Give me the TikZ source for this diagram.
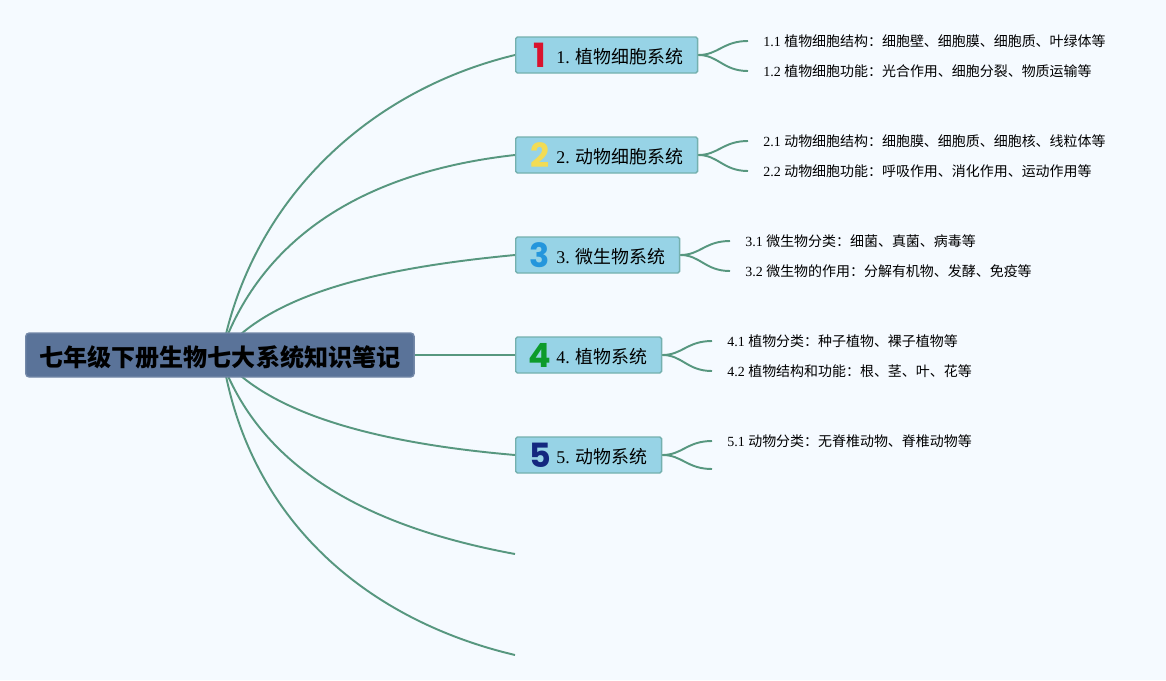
\documentclass[tikz,border=0pt]{standalone}
\usepackage{fontspec}
\usepackage{xcolor}
\usetikzlibrary{positioning}
\setmainfont{Liberation Serif}
\newfontfamily\cjk{Noto Sans CJK SC}
\newfontfamily\numfont{Poppins}
\definecolor{pagebg}{HTML}{F5FAFF}
\definecolor{rootfill}{HTML}{5A7399}
\definecolor{rootedge}{HTML}{7388A8}
\definecolor{branchfill}{HTML}{97D3E6}
\definecolor{branchedge}{HTML}{74B0AE}
\definecolor{linkgreen}{HTML}{57977F}
\definecolor{numred}{HTML}{D9132E}
\definecolor{numyellow}{HTML}{F2DC55}
\definecolor{numblue}{HTML}{2496DC}
\definecolor{numgreen}{HTML}{0D9B2B}
\definecolor{numnavy}{HTML}{14287F}
\newcommand{\numicon}[3]{\makebox[11.4pt]{\raisebox{-3pt}[0pt][0pt]{\fontsize{19}{19}\numfont\bfseries\textcolor{#1}{#2}}}\hspace{3.6pt}\raisebox{-1.1pt}[\height][\depth]{#3}}
\tikzset{
	rootbox/.style={draw=rootedge,fill=rootfill,thick,rounded corners=2pt,anchor=west,minimum width=7.77cm,minimum height=0.88cm,inner sep=0pt,text=black,font=\fontsize{13.7}{16}\selectfont\cjk\bfseries},
	branchbox/.style={draw=branchedge,fill=branchfill,thick,rounded corners=1pt,anchor=west,minimum height=0.72cm,inner sep=0pt,text=black,font=\fontsize{10.2}{12}\selectfont},
	leaftext/.style={anchor=west,inner xsep=0.3cm,inner ysep=2pt,text=black,font=\fontsize{7.95}{10}\selectfont},
	linkline/.style={draw=linkgreen,line width=1.1pt}
}
\begin{document}
\begin{tikzpicture}[x=0.02cm,y=-0.02cm]
	\fill[pagebg] (0,0) rectangle (1166,680);
	\useasboundingbox (0,0) rectangle (1166,680);
	\coordinate (rootone) at (226,334);
	\coordinate (roottwo) at (228,334);
	\coordinate (rootthree) at (241,334);
	\coordinate (rootfive) at (241,376);
	\coordinate (rootsix) at (228,376);
	\coordinate (rootseven) at (226,376);
	\coordinate (branchsix) at (515,554);
	\coordinate (branchseven) at (515,655);
	\coordinate (leaffivetwo) at (712,469);
	\draw[linkline] (rootone) .. controls (260,195) and (370,90) .. (515,55);
	\draw[linkline] (roottwo) .. controls (275,225) and (380,170) .. (515,155);
	\draw[linkline] (rootthree) .. controls (300,284) and (410,265) .. (515,255);
	\draw[linkline] (rootfive) .. controls (300,425) and (410,446) .. (515,455);
	\draw[linkline] (rootsix) .. controls (275,480) and (385,530) .. (branchsix);
	\draw[linkline] (rootseven) .. controls (258,530) and (375,622) .. (branchseven);
	\node[rootbox] (root) at (25,355) {\raisebox{-1.1pt}[\height][\depth]{七年级下册生物七大系统知识笔记}};
	\node[branchbox,minimum width=3.64cm] (plantcell) at (515,55) {\numicon{numred}{1}{1. {\cjk 植物细胞系统}}};
	\node[branchbox,minimum width=3.64cm] (animalcell) at (515,155) {\numicon{numyellow}{2}{2. {\cjk 动物细胞系统}}};
	\node[branchbox,minimum width=3.28cm] (microbe) at (515,255) {\numicon{numblue}{3}{3. {\cjk 微生物系统}}};
	\node[branchbox,minimum width=2.92cm] (plant) at (515,355) {\numicon{numgreen}{4}{4. {\cjk 植物系统}}};
	\node[branchbox,minimum width=2.92cm] (animal) at (515,455) {\numicon{numnavy}{5}{5. {\cjk 动物系统}}};
	\draw[linkline] (root.east) -- (plant.west);
	\node[leaftext] (leafoneone) at (748,41) {1.1 {\cjk 植物细胞结构：细胞壁、细胞膜、细胞质、叶绿体等}};
	\node[leaftext] (leafonetwo) at (748,71) {1.2 {\cjk 植物细胞功能：光合作用、细胞分裂、物质运输等}};
	\node[leaftext] (leaftwoone) at (748,141) {2.1 {\cjk 动物细胞结构：细胞膜、细胞质、细胞核、线粒体等}};
	\node[leaftext] (leaftwotwo) at (748,171) {2.2 {\cjk 动物细胞功能：呼吸作用、消化作用、运动作用等}};
	\node[leaftext] (leafthreeone) at (730,241) {3.1 {\cjk 微生物分类：细菌、真菌、病毒等}};
	\node[leaftext] (leafthreetwo) at (730,271) {3.2 {\cjk 微生物的作用：分解有机物、发酵、免疫等}};
	\node[leaftext] (leaffourone) at (712,341) {4.1 {\cjk 植物分类：种子植物、裸子植物等}};
	\node[leaftext] (leaffourtwo) at (712,371) {4.2 {\cjk 植物结构和功能：根、茎、叶、花等}};
	\node[leaftext] (leaffiveone) at (712,441) {5.1 {\cjk 动物分类：无脊椎动物、脊椎动物等}};
	\draw[linkline] (plantcell.east) .. controls +(20,0) and +(-25,0) .. (leafoneone.west);
	\draw[linkline] (plantcell.east) .. controls +(20,0) and +(-25,0) .. (leafonetwo.west);
	\draw[linkline] (animalcell.east) .. controls +(20,0) and +(-25,0) .. (leaftwoone.west);
	\draw[linkline] (animalcell.east) .. controls +(20,0) and +(-25,0) .. (leaftwotwo.west);
	\draw[linkline] (microbe.east) .. controls +(20,0) and +(-25,0) .. (leafthreeone.west);
	\draw[linkline] (microbe.east) .. controls +(20,0) and +(-25,0) .. (leafthreetwo.west);
	\draw[linkline] (plant.east) .. controls +(20,0) and +(-25,0) .. (leaffourone.west);
	\draw[linkline] (plant.east) .. controls +(20,0) and +(-25,0) .. (leaffourtwo.west);
	\draw[linkline] (animal.east) .. controls +(20,0) and +(-25,0) .. (leaffiveone.west);
	\draw[linkline] (animal.east) .. controls +(20,0) and +(-25,0) .. (leaffivetwo);
\end{tikzpicture}
\end{document}
